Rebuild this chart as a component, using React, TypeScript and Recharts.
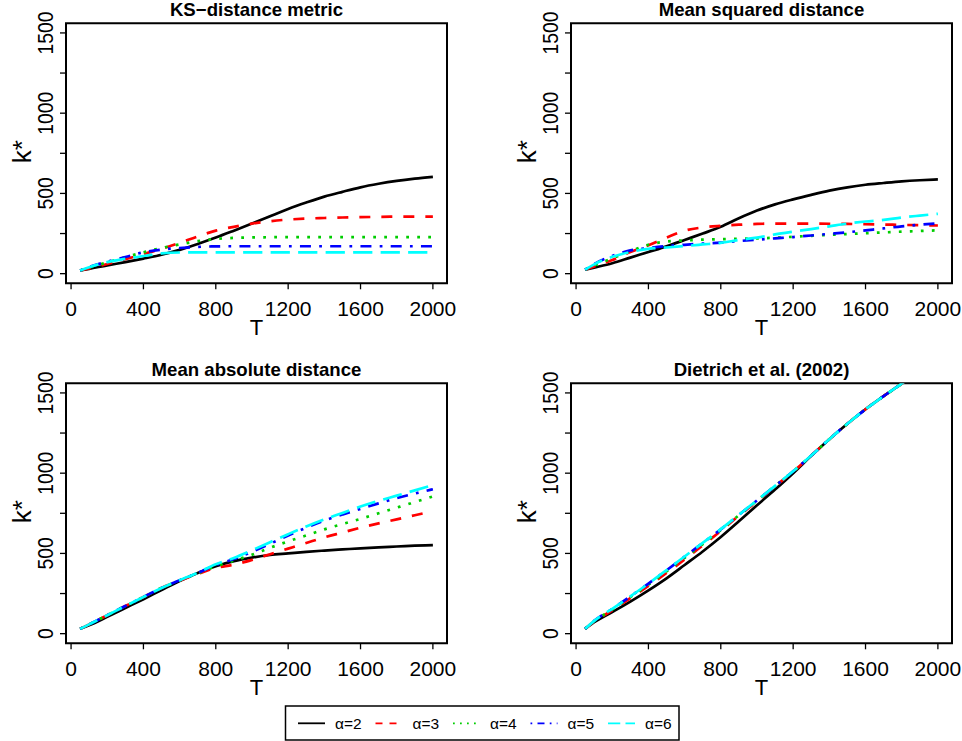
import React from 'react';
import { LineChart, Line, XAxis, YAxis, ReferenceArea } from 'recharts';

const FONT = "'Liberation Sans', Arial, Helvetica, sans-serif";

// Sample sizes T
const T = [50, 100, 200, 300, 400, 500, 600, 700, 800, 900, 1000, 1100, 1200, 1300, 1400, 1500, 1600, 1700, 1800, 1900, 2000];

// KS-distance metric
const ksA2 = [20, 30, 52, 72, 94, 118, 148, 185, 225, 268, 312, 358, 403, 443, 480, 510, 538, 560, 578, 592, 603];
const ksA3 = [20, 33, 60, 90, 122, 155, 192, 232, 268, 292, 312, 327, 337, 343, 347, 350, 352, 354, 355, 355, 355];
const ksA4 = [20, 38, 70, 102, 133, 160, 182, 203, 216, 223, 226, 227, 228, 228, 228, 228, 228, 228, 228, 228, 228];
const ksA5 = [20, 42, 75, 104, 133, 150, 160, 167, 170, 171, 171, 171, 171, 171, 171, 171, 171, 171, 171, 171, 171];
const ksA6 = [20, 40, 72, 92, 110, 126, 132, 133, 133, 133, 133, 133, 133, 133, 133, 133, 133, 133, 133, 133, 133];

// Mean squared distance
const msA2 = [25, 38, 65, 100, 135, 170, 210, 250, 292, 345, 393, 432, 463, 491, 517, 538, 554, 565, 575, 582, 587];
const msA3 = [25, 45, 85, 135, 177, 225, 268, 288, 298, 305, 310, 312, 312, 312, 311, 310, 308, 306, 304, 302, 300];
const msA4 = [25, 50, 95, 140, 180, 200, 207, 212, 215, 217, 220, 224, 230, 236, 242, 247, 252, 257, 262, 266, 270];
const msA5 = [25, 60, 110, 145, 160, 172, 180, 187, 193, 203, 212, 220, 228, 238, 248, 258, 270, 282, 295, 305, 313];
const msA6 = [25, 58, 105, 135, 155, 163, 172, 182, 192, 210, 225, 245, 262, 278, 295, 312, 325, 335, 350, 362, 373];

// Mean absolute distance
const maA2 = [30, 52, 105, 160, 215, 272, 328, 378, 420, 452, 474, 490, 500, 510, 518, 525, 532, 538, 543, 548, 552];
const maA3 = [30, 58, 115, 172, 228, 285, 330, 372, 410, 430, 460, 495, 530, 565, 600, 630, 660, 687, 712, 738, 762];
const maA4 = [30, 58, 115, 172, 228, 285, 332, 375, 420, 455, 492, 535, 575, 612, 650, 683, 715, 750, 785, 820, 855];
const maA5 = [30, 58, 115, 172, 228, 285, 333, 378, 428, 465, 510, 560, 612, 660, 705, 742, 778, 812, 845, 873, 900];
const maA6 = [30, 58, 115, 172, 228, 285, 333, 380, 432, 472, 520, 570, 620, 668, 712, 752, 792, 828, 860, 893, 925];

// Dietrich et al. (2002)
const diA2 = [30, 72, 135, 200, 270, 345, 428, 512, 602, 700, 800, 898, 1000, 1108, 1212, 1308, 1398, 1480, 1558, 1640, 1725];
const diA3 = [30, 76, 145, 222, 298, 378, 462, 550, 640, 735, 825, 918, 1010, 1110, 1212, 1308, 1398, 1480, 1558, 1640, 1725];
const diA4 = [30, 78, 150, 228, 305, 388, 472, 558, 646, 738, 828, 920, 1012, 1110, 1212, 1308, 1398, 1480, 1558, 1640, 1725];
const diA5 = [30, 80, 155, 232, 312, 395, 480, 565, 650, 740, 830, 920, 1012, 1110, 1212, 1308, 1398, 1480, 1558, 1640, 1725];
const diA6 = [30, 80, 155, 232, 312, 396, 481, 566, 651, 741, 830, 921, 1012, 1110, 1212, 1308, 1398, 1480, 1558, 1640, 1725];

const X_TICKS = [0, 400, 800, 1200, 1600, 2000];
const Y_TICKS = [0, 250, 500, 750, 1000, 1250, 1500];
const Y_LABELS = [0, 500, 1000, 1500];
const X_DOMAIN = [-28, 2078];
const Y_DOMAIN = [-60, 1560];

const SERIES = [
  { key: 'a2', name: 'α=2', color: '#000000', dash: undefined as string | undefined, legendDash: undefined as string | undefined },
  { key: 'a3', name: 'α=3', color: '#FF0000', dash: '11 11', legendDash: '7 7' },
  { key: 'a4', name: 'α=4', color: '#00CD00', dash: '2.75 8.25', legendDash: '1.75 5.25' },
  { key: 'a5', name: 'α=5', color: '#0000FF', dash: '2.75 8.25 11 8.25', legendDash: '1.75 5.25 7 5.25' },
  { key: 'a6', name: 'α=6', color: '#00FFFF', dash: '19.25 8.25', legendDash: '12.25 5.25' },
];

function buildRows(a2: number[], a3: number[], a4: number[], a5: number[], a6: number[]) {
  return T.map((t, i) => ({ T: t, a2: a2[i], a3: a3[i], a4: a4[i], a5: a5[i], a6: a6[i] }));
}

const PANELS = [
  { title: 'KS\u2212distance metric', rows: buildRows(ksA2, ksA3, ksA4, ksA5, ksA6), left: 0, top: 0 },
  { title: 'Mean squared distance', rows: buildRows(msA2, msA3, msA4, msA5, msA6), left: 505, top: 0 },
  { title: 'Mean absolute distance', rows: buildRows(maA2, maA3, maA4, maA5, maA6), left: 0, top: 360 },
  { title: 'Dietrich et al. (2002)', rows: buildRows(diA2, diA3, diA4, diA5, diA6), left: 505, top: 360 },
];

const XTick = (props: any) => {
  const { x, y, payload } = props;
  return (
    <text x={x} y={y + 26.4} textAnchor="middle" fontSize={21} fontFamily={FONT} fill="#000">
      {payload.value}
    </text>
  );
};

const YTick = (props: any) => {
  const { x, y, payload } = props;
  if (!Y_LABELS.includes(payload.value)) return <g />;
  return (
    <text
      transform={`translate(${x - 6.7},${y}) rotate(-90) scale(0.86,1)`}
      x={0}
      y={0}
      textAnchor="middle"
      fontSize={22.5}
      fontFamily={FONT}
      fill="#000"
    >
      {payload.value}
    </text>
  );
};

const xLabel = (p: any) => {
  const vb = p.viewBox || {};
  return (
    <text x={vb.x + vb.width / 2} y={vb.y + 51.7} textAnchor="middle" fontSize={22} fontFamily={FONT} fill="#000">
      T
    </text>
  );
};

const yLabel = (p: any) => {
  const vb = p.viewBox || {};
  const cx = vb.x + 30.7;
  const cy = vb.y + vb.height / 2 - 1.5;
  return (
    <text transform={`translate(${cx},${cy}) rotate(-90)`} x={0} y={0} textAnchor="middle" fontSize={26} fontFamily={FONT} fill="#000">
      k*
    </text>
  );
};

const makeTitle = (title: string) => (p: any) => {
  const vb = p.viewBox || {};
  return (
    <text x={vb.x + vb.width / 2} y={vb.y - 7.3} textAnchor="middle" fontSize={18.6} fontWeight="bold" fontFamily={FONT} fill="#000">
      {title}
    </text>
  );
};

function Panel({ title, rows, left, top }: any) {
  return (
    <div style={{ position: 'absolute', left, top }}>
      <LineChart width={481} height={345} data={rows} margin={{ top: 23.3, right: 34, left: 0, bottom: 0 }}>
        <XAxis
          dataKey="T"
          type="number"
          domain={X_DOMAIN}
          ticks={X_TICKS}
          interval={0}
          allowDataOverflow
          axisLine={false}
          tickLine={{ stroke: '#000', strokeWidth: 1.3 }}
          tickSize={6}
          tickMargin={0}
          height={61.7}
          tick={XTick}
          label={xLabel}
        />
        <YAxis
          type="number"
          domain={Y_DOMAIN}
          ticks={Y_TICKS}
          interval={0}
          allowDataOverflow
          axisLine={false}
          tickLine={{ stroke: '#000', strokeWidth: 1.3 }}
          tickSize={6}
          tickMargin={0}
          width={66}
          tick={YTick}
          label={yLabel}
        />
        <ReferenceArea
          x1={X_DOMAIN[0]}
          x2={X_DOMAIN[1]}
          y1={Y_DOMAIN[0]}
          y2={Y_DOMAIN[1]}
          fill="none"
          fillOpacity={0}
          stroke="#000"
          strokeWidth={2}
          label={makeTitle(title)}
        />
        {SERIES.map((s) => (
          <Line
            key={s.key}
            dataKey={s.key}
            name={s.name}
            type="monotone"
            stroke={s.color}
            strokeWidth={2.7}
            strokeDasharray={s.dash}
            strokeLinecap="butt"
            dot={false}
            activeDot={false}
            isAnimationActive={false}
          />
        ))}
      </LineChart>
    </div>
  );
}

function Legend() {
  return (
    <svg style={{ position: 'absolute', left: 280, top: 700 }} width={410} height={41}>
      <rect x={5.5} y={6} width={393.5} height={34} fill="#fff" stroke="#000" strokeWidth={1.5} />
      {SERIES.map((s, i) => {
        const lx = 18 + i * 77.5;
        return (
          <g key={s.key}>
            <line x1={lx} x2={lx + 27} y1={23.3} y2={23.3} stroke={s.color} strokeWidth={1.8} strokeDasharray={s.legendDash} />
            <text x={lx + 37} y={28.5} fontSize={15.5} fontFamily={FONT} fill="#000">
              {s.name}
            </text>
          </g>
        );
      })}
    </svg>
  );
}

export default function App() {
  return (
    <div style={{ position: 'absolute', left: 0, top: 0, width: 962, height: 741, background: '#fff', overflow: 'hidden' }}>
      {PANELS.map((p) => (
        <Panel key={p.title} {...p} />
      ))}
      <Legend />
    </div>
  );
}
